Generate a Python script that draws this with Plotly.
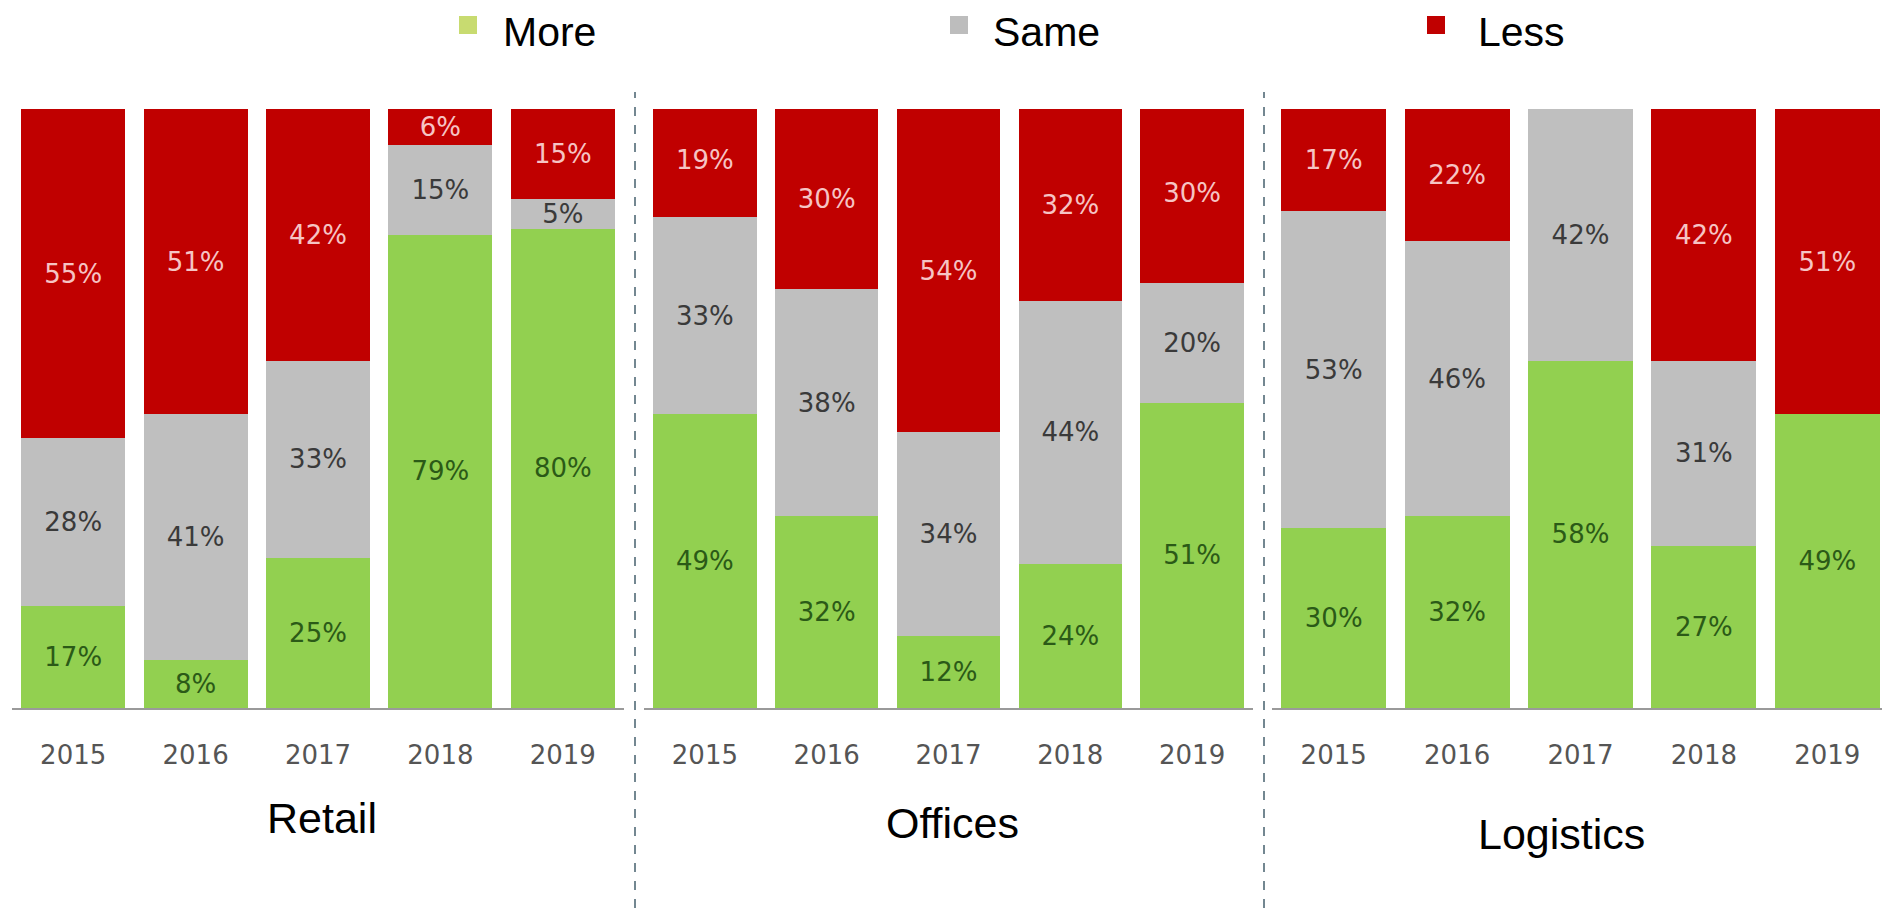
import plotly.graph_objects as go
from plotly.subplots import make_subplots

# ---- data ----
years = ["2015", "2016", "2017", "2018", "2019"]
sectors = ["Retail", "Offices", "Logistics"]
series_names = ["More", "Same", "Less"]

retail_more = [17, 8, 25, 79, 80]
retail_same = [28, 41, 33, 15, 5]
retail_less = [55, 51, 42, 6, 15]

offices_more = [49, 32, 12, 24, 51]
offices_same = [33, 38, 34, 44, 20]
offices_less = [19, 30, 54, 32, 30]

logistics_more = [30, 32, 58, 27, 49]
logistics_same = [53, 46, 42, 31, 0]
logistics_less = [17, 22, 0, 42, 51]

panel_data = [
    (retail_more, retail_same, retail_less),
    (offices_more, offices_same, offices_less),
    (logistics_more, logistics_same, logistics_less),
]

# ---- styles / layout helpers ----
OFF = 8                     # page body margin
W, H = 1890 - OFF, 908 - OFF


def px(x):
    return (x - OFF) / W


def py(y):
    return 1 - (y - OFF) / H


bar_colors = ["#92d050", "#bfbfbf", "#c00000"]
text_colors = ["#2b5a17", "#3a3a3a", "#f6c4c4"]
legend_colors = ["#c8db70", "#bdbdbd", "#c00000"]
label_font = "DejaVu Sans"
title_font = "Liberation Sans, Arial, sans-serif"

fig = make_subplots(rows=1, cols=3, shared_yaxes=False, horizontal_spacing=0.02)

for p, vals in enumerate(panel_data):
    for s, series in enumerate(vals):
        fig.add_trace(
            go.Bar(
                x=years,
                y=series,
                name=series_names[s],
                marker=dict(color=bar_colors[s], line=dict(width=0)),
                text=[f"{v}%" if v else "" for v in series],
                textposition="inside",
                insidetextanchor="middle",
                textangle=0,
                insidetextfont=dict(family=label_font, size=26, color=text_colors[s]),
                showlegend=False,
                hoverinfo="skip",
            ),
            row=1, col=p + 1,
        )

x_domains = [[px(12), px(624)], [px(644), px(1253)], [px(1272), min(1.0, px(1889))]]
y_domain = [py(708), py(109)]

for i in range(3):
    ax = "xaxis" if i == 0 else f"xaxis{i + 1}"
    ay = "yaxis" if i == 0 else f"yaxis{i + 1}"
    fig.layout[ax].update(
        domain=x_domains[i],
        type="category",
        range=[-0.5, 4.5],
        showline=True,
        linecolor="#9a9a9a",
        linewidth=2,
        showgrid=False,
        zeroline=False,
        ticks="outside",
        ticklen=23,
        tickcolor="rgba(0,0,0,0)",
        tickfont=dict(family=label_font, size=26, color="#555555"),
    )
    fig.layout[ay].update(
        domain=y_domain,
        range=[0, 100],
        visible=False,
        showgrid=False,
        zeroline=False,
    )

shapes = []
annotations = []

# dashed panel separators
for xs in [635, 1264]:
    shapes.append(dict(type="line", xref="paper", yref="paper",
                       x0=px(xs), x1=px(xs), y0=0, y1=py(92),
                       line=dict(color="#46606e", width=1.5, dash="dash")))

# legend (squares + labels)
legend_sq_x = [468, 959, 1436]
legend_txt_x = [502, 992, 1477]
for i, name in enumerate(series_names):
    cx, cy = legend_sq_x[i], 25
    shapes.append(dict(type="rect", xref="paper", yref="paper",
                       x0=px(cx - 9), x1=px(cx + 9),
                       y0=py(cy + 9), y1=py(cy - 9),
                       fillcolor=legend_colors[i], line=dict(width=0)))
    annotations.append(dict(text=name, xref="paper", yref="paper",
                            x=px(legend_txt_x[i]), y=1.0,
                            xanchor="left", yanchor="top", showarrow=False,
                            borderpad=0,
                            font=dict(family=title_font, size=41, color="#000000")))

# panel titles
title_pos = [(322, 818), (952, 823), (1561, 834)]
for name, (tx, ty) in zip(sectors, title_pos):
    annotations.append(dict(text=name, xref="paper", yref="paper",
                            x=px(tx), y=py(ty),
                            xanchor="center", yanchor="middle", showarrow=False,
                            font=dict(family=title_font, size=43, color="#000000")))

fig.update_layout(
    width=W, height=H,
    margin=dict(l=0, r=0, t=0, b=0),
    barmode="stack",
    bargap=0.15,
    plot_bgcolor="white",
    paper_bgcolor="white",
    uniformtext=dict(minsize=26, mode="show"),
    shapes=shapes,
    annotations=annotations,
    showlegend=False,
)

fig.write_html("out.html")
